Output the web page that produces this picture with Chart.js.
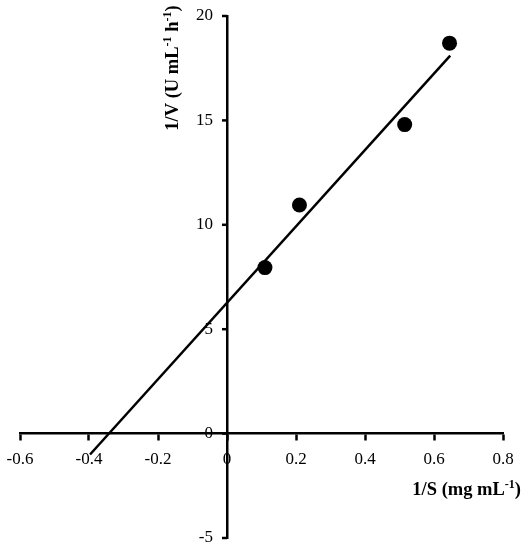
<!DOCTYPE html>
<html>
<head>
<meta charset="utf-8">
<script src="https://cdn.jsdelivr.net/npm/chart.js@4.4.1/dist/chart.umd.min.js"></script>
<style>
  html, body { margin: 0; padding: 0; background: #fff; }
  #wrap { width: 529px; height: 550px; position: relative; }
</style>
</head>
<body>
<div id="wrap"><canvas id="lb-chart"></canvas></div>
<script>
// measured points (1/S, 1/V)
const substrateInv = [0.11, 0.21, 0.515, 0.645];
const velocityInv = [7.95, 10.95, 14.8, 18.7];

// linear fit, end points
const fitX = [-0.397, 0.647];
const fitY = [-1.0, 18.1];

// axis ticks
const xTickValues = [-0.6, -0.4, -0.2, 0, 0.2, 0.4, 0.6, 0.8];
const yTickValues = [-5, 0, 5, 10, 15, 20];

const serif = "'Liberation Serif', 'Times New Roman', serif";

// draws a label with superscript pieces, starting at (x, y) on the baseline
const drawParts = (ctx, parts, x, y) => {
  let cx = x;
  parts.forEach(([txt, sup]) => {
    ctx.font = sup ? `bold 12px ${serif}` : `bold 18.5px ${serif}`;
    ctx.fillText(txt, cx, sup ? y - 7 : y);
    cx += ctx.measureText(txt).width;
  });
};

const partsWidth = (ctx, parts) => parts.reduce((w, [txt, sup]) => {
  ctx.font = sup ? `bold 12px ${serif}` : `bold 18.5px ${serif}`;
  return w + ctx.measureText(txt).width;
}, 0);

const xTitle = [['1/S (mg mL', false], ['-1', true], [')', false]];
const yTitle = [['1/V (U mL', false], ['-1', true], [' h', false], ['-1', true], [')', false]];

// y axis sits at x = 0, chart.js puts its labels right on the line, so ticks + labels go here
const yAxisTicks = {
  id: 'yAxisTicks',
  afterDraw(chart) {
    const { ctx, scales: { x, y } } = chart;
    const px = x.getPixelForValue(0);
    ctx.save();
    ctx.strokeStyle = '#000';
    ctx.lineWidth = 2.5;
    ctx.fillStyle = '#000';
    ctx.font = `17px ${serif}`;
    ctx.textAlign = 'right';
    ctx.textBaseline = 'middle';
    yTickValues.forEach(v => {
      const py = y.getPixelForValue(v);
      ctx.beginPath();
      ctx.moveTo(px - 5, py);
      ctx.lineTo(px, py);
      ctx.stroke();
      ctx.fillText(String(v), px - 14, py);
    });
    ctx.restore();
  }
};

const axisTitles = {
  id: 'axisTitles',
  afterDraw(chart) {
    const ctx = chart.ctx;
    ctx.save();
    ctx.fillStyle = '#000';
    ctx.textBaseline = 'alphabetic';
    ctx.textAlign = 'left';

    const wx = partsWidth(ctx, xTitle);
    drawParts(ctx, xTitle, 521 - wx, 495);

    const wy = partsWidth(ctx, yTitle);
    ctx.translate(178, 68 + wy / 2);
    ctx.rotate(-Math.PI / 2);
    drawParts(ctx, yTitle, 0, 0);
    ctx.restore();
  }
};

const chartData = {
  datasets: [
    {
      label: 'Ajuste',
      data: fitX.map((x, i) => ({ x, y: fitY[i] })),
      showLine: true,
      borderColor: '#000',
      borderWidth: 2.5,
      pointRadius: 0,
      fill: false,
      order: 2
    },
    {
      label: 'Datos',
      data: substrateInv.map((x, i) => ({ x, y: velocityInv[i] })),
      showLine: false,
      pointRadius: 7.5,
      pointBackgroundColor: '#000',
      pointBorderColor: '#000',
      pointBorderWidth: 0,
      order: 1
    }
  ]
};

const config = {
  type: 'scatter',
  data: chartData,
  options: {
    responsive: true,
    maintainAspectRatio: false,
    animation: false,
    layout: {
      padding: { left: 20, right: 26, top: 16, bottom: 12 }
    },
    plugins: {
      legend: { display: false },
      tooltip: { enabled: false }
    },
    scales: {
      x: {
        type: 'linear',
        position: { y: 0 },
        min: -0.6,
        max: 0.8,
        afterBuildTicks: (scale) => {
          scale.ticks = xTickValues.map(v => ({ value: v }));
        },
        afterFit: (scale) => {
          // keep the end labels from pushing the plot inwards
          scale.paddingLeft = 0;
          scale.paddingRight = 0;
        },
        ticks: {
          color: '#000',
          font: { family: serif, size: 17 },
          padding: 10,
          maxRotation: 0,
          autoSkip: false,
          callback: (v) => String(Math.round(v * 10) / 10)
        },
        grid: {
          drawOnChartArea: false,
          drawTicks: true,
          tickLength: 6,
          tickWidth: 2.5,
          color: '#000'
        },
        border: { color: '#000', width: 2.5 }
      },
      y: {
        type: 'linear',
        position: { x: 0 },
        min: -5,
        max: 20,
        afterBuildTicks: (scale) => {
          scale.ticks = yTickValues.map(v => ({ value: v }));
        },
        ticks: { display: false },
        grid: {
          drawOnChartArea: false,
          drawTicks: false
        },
        border: { color: '#000', width: 2.5 }
      }
    }
  },
  plugins: [yAxisTicks, axisTitles]
};

new Chart(document.querySelector('#lb-chart'), config);
</script>
</body>
</html>
